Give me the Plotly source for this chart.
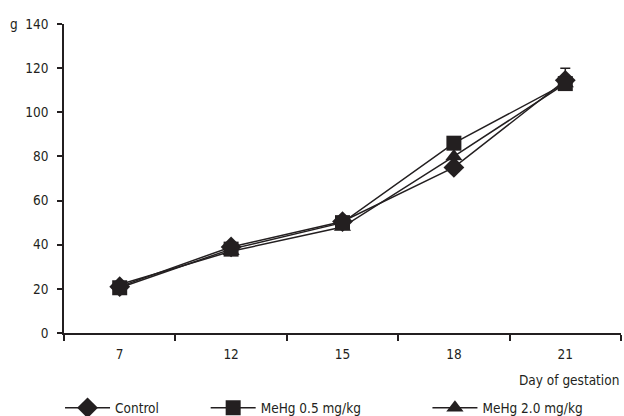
import plotly.graph_objects as go

days = ["7", "12", "15", "18", "21"]
control = [21, 39, 50.5, 75, 114.5]
mehg05 = [20.5, 38, 50, 86, 113]
mehg20 = [22, 37, 48, 80, 113]
control_err = [0, 0, 0, 0, 5.5]
yticks = [0, 20, 40, 60, 80, 100, 120, 140]

INK = "#231f20"
FONT = "DejaVu Sans Condensed, sans-serif"
FS = 13.5

fig = go.Figure()
# drawing order: triangle, diamond, square on top
series = [
    ("MeHg 2.0 mg/kg", mehg20, "triangle-up", 15, "legend3", None),
    ("Control", control, "diamond", 16, "legend", control_err),
    ("MeHg 0.5 mg/kg", mehg05, "square", 15, "legend2", None),
]
for name, vals, sym, sz, leg, err in series:
    fig.add_trace(go.Scatter(
        x=days, y=vals, name=name, mode="lines+markers",
        line=dict(color=INK, width=1.5),
        marker=dict(symbol=sym, size=sz, color=INK),
        error_y=dict(type="data", array=err, arrayminus=[0] * len(err),
                     symmetric=False, visible=True,
                     color=INK, thickness=1.5, width=5) if err else None,
        legend=leg, showlegend=True,
    ))

legend_common = dict(orientation="h", yanchor="middle", xanchor="left",
                     xref="container", yref="container",
                     font=dict(family=FONT, size=FS, color=INK),
                     bgcolor="rgba(0,0,0,0)", itemsizing="trace",
                     itemwidth=45)
LEG_Y = 1 - 408 / 416
fig.update_layout(
    width=624, height=416, showlegend=True,
    margin=dict(l=64, r=3, t=24, b=83, autoexpand=False),
    paper_bgcolor="white", plot_bgcolor="white",
    font=dict(family=FONT, size=FS, color=INK),
    legend=dict(x=0.0962, y=LEG_Y, **legend_common),
    legend2=dict(x=0.3296, y=LEG_Y, **legend_common),
    legend3=dict(x=0.685, y=LEG_Y, **legend_common),
    xaxis=dict(type="category", range=[-0.5, 4.5], showline=True,
               linecolor=INK, linewidth=1.5, ticks="outside", ticklen=6,
               tickcolor=INK, tickwidth=1.5, tickson="boundaries",
               showgrid=False, zeroline=False, ticklabelstandoff=8),
    yaxis=dict(range=[0, 140], tickvals=yticks, showline=True,
               linecolor=INK, linewidth=1.5, ticks="outside", ticklen=5,
               tickcolor=INK, tickwidth=1.5, showgrid=False, zeroline=False,
               ticklabelstandoff=6),
    annotations=[
        dict(text="g", xref="paper", yref="paper", x=-0.09, y=1.0,
             xanchor="center", yanchor="middle", showarrow=False,
             font=dict(family=FONT, size=FS, color=INK)),
        dict(text="Day of gestation", xref="paper", yref="paper", x=1.0,
             y=-0.152, xanchor="right", yanchor="middle", showarrow=False,
             font=dict(family=FONT, size=FS, color=INK)),
    ],
)
fig.write_html(
    "out.html",
    config={"displayModeBar": False},
    post_script="document.body.style.margin='0';"
                "document.body.style.overflow='hidden';",
)
